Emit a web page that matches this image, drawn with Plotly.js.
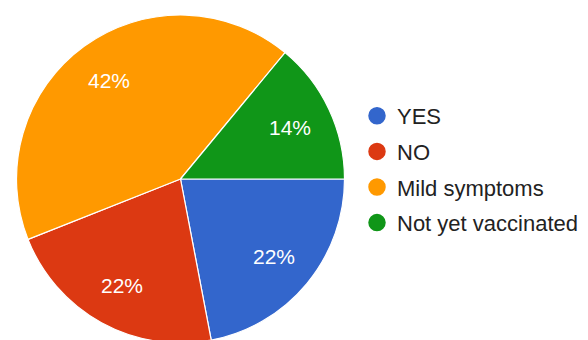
<!DOCTYPE html>
<html>
<head>
<meta charset="utf-8">
<script src="https://cdn.plot.ly/plotly-3.0.1.min.js"></script>
<style>html,body{margin:0;padding:0;background:#fff;overflow:hidden;}#chart{width:588px;height:358px;}</style>
</head>
<body>
<div id="chart"></div>
<script>
const labels = ["YES", "NO", "Mild symptoms", "Not yet vaccinated"];
const values = [22, 22, 42, 14];
const colors = ["#3366cc", "#dc3912", "#ff9900", "#109618"];

const W = 588, H = 358;
const cx = 180.5, cy = 179, R = 164, labelR = 0.74 * R;
const startDeg = 90;

const traces = [{
  type: "pie",
  labels: labels,
  values: values,
  sort: false,
  direction: "clockwise",
  rotation: startDeg,
  marker: {colors: colors, line: {color: "#ffffff", width: 1.2}},
  textinfo: "none",
  showlegend: false,
  hoverinfo: "label+percent",
  domain: {x: [(cx - R) / W, (cx + R) / W], y: [0, 1]}
}];

labels.forEach(function(l, i) {
  traces.push({
    type: "scatter",
    mode: "markers",
    x: [null], y: [null],
    name: l,
    legendgroup: "g" + i,
    marker: {color: colors[i], size: 16, symbol: "circle", line: {color: colors[i], width: 1.5}},
    showlegend: true,
    hoverinfo: "skip"
  });
});

// percentage labels placed along each slice's mid-angle
const total = values.reduce(function(a, b) { return a + b; }, 0);
let acc = 0;
const annotations = values.map(function(v, i) {
  const mid = startDeg + (acc + v / 2) / total * 360;
  acc += v;
  const a = mid * Math.PI / 180;
  const px = cx + labelR * Math.sin(a);
  const py = cy - labelR * Math.cos(a);
  return {
    xref: "paper", yref: "paper",
    x: px / W, y: 1 - py / H,
    xanchor: "center", yanchor: "middle",
    showarrow: false,
    text: Math.round(v / total * 100) + "%",
    font: {color: "#ffffff", size: 21, family: "Liberation Sans, Arial, sans-serif"}
  };
});

Plotly.newPlot("chart", traces, {
  width: W, height: H,
  margin: {l: 0, r: 0, t: 0, b: 0},
  paper_bgcolor: "#ffffff",
  plot_bgcolor: "#ffffff",
  xaxis: {visible: false},
  yaxis: {visible: false},
  showlegend: true,
  annotations: annotations,
  legend: {
    x: 357 / W, xanchor: "left",
    y: 1 - 169.5 / H, yanchor: "middle",
    traceorder: "grouped",
    tracegroupgap: 4,
    itemsizing: "trace",
    font: {size: 22, color: "#222222", family: "Liberation Sans, Arial, sans-serif"},
    itemclick: false, itemdoubleclick: false
  }
}, {displayModeBar: false, staticPlot: true});
</script>
</body>
</html>
